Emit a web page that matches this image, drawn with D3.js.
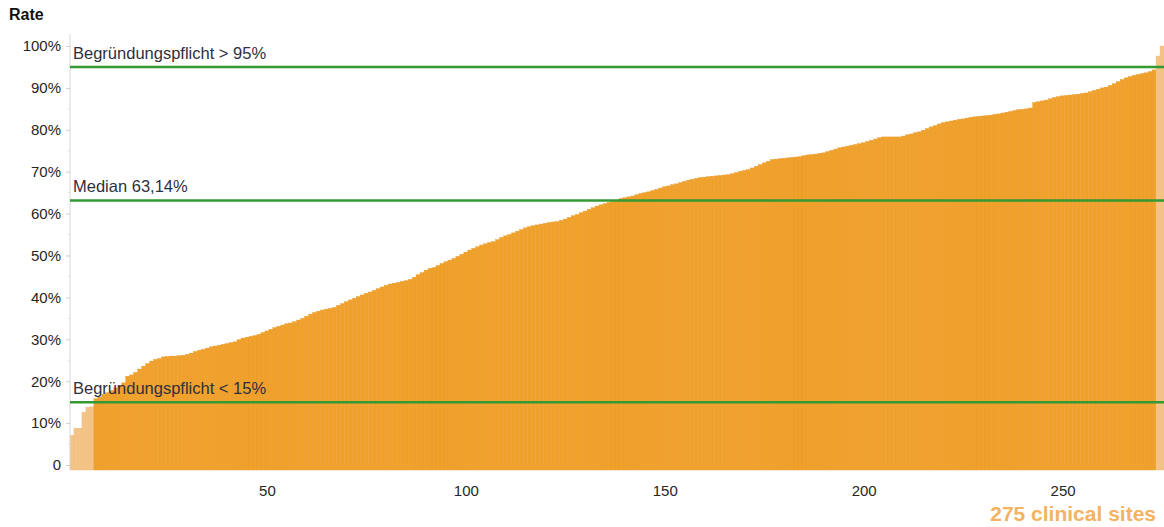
<!DOCTYPE html>
<html>
<head>
<meta charset="utf-8">
<script src="https://cdn.jsdelivr.net/npm/d3@7"></script>
<style>
  html, body { margin: 0; padding: 0; background: #fff; }
  svg { display: block; font-family: "Liberation Sans", Arial, sans-serif; }
</style>
</head>
<body>
<svg id="chart" width="1164" height="527"></svg>
<script>
// ---- data ----
const rates = [
  7.1, 8.8, 8.8, 12.6, 13.8, 13.9, 15.8, 16.2, 16.9, 17.3,
  17.8, 18.4, 19.0, 19.6, 21.2, 21.5, 22.1, 22.9, 23.6, 24.2,
  24.8, 25.2, 25.4, 25.8, 25.9, 26.0, 26.0, 26.1, 26.2, 26.4,
  26.7, 27.1, 27.4, 27.6, 27.9, 28.2, 28.4, 28.6, 28.8, 29.0,
  29.2, 29.4, 29.9, 30.3, 30.5, 30.7, 30.9, 31.2, 31.6, 32.0,
  32.4, 32.8, 33.1, 33.4, 33.7, 33.9, 34.2, 34.6, 35.0, 35.5,
  36.0, 36.4, 36.7, 37.0, 37.2, 37.4, 37.6, 38.1, 38.5, 39.0,
  39.4, 39.8, 40.2, 40.6, 41.0, 41.3, 41.7, 42.1, 42.5, 42.9,
  43.2, 43.4, 43.6, 43.8, 44.0, 44.3, 44.8, 45.4, 45.9, 46.5,
  46.9, 47.1, 47.6, 48.1, 48.5, 48.9, 49.3, 49.8, 50.3, 50.8,
  51.3, 51.7, 52.1, 52.5, 52.8, 53.1, 53.3, 53.8, 54.3, 54.7,
  55.0, 55.4, 55.8, 56.2, 56.6, 56.9, 57.1, 57.3, 57.5, 57.7,
  57.9, 58.0, 58.1, 58.4, 58.7, 59.1, 59.5, 59.8, 60.2, 60.6,
  61.0, 61.4, 61.8, 62.1, 62.4, 62.7, 62.9, 63.14, 63.6, 63.8,
  64.0, 64.2, 64.5, 64.8, 65.0, 65.2, 65.5, 65.8, 66.1, 66.4,
  66.6, 66.9, 67.1, 67.4, 67.7, 68.0, 68.2, 68.4, 68.6, 68.7,
  68.8, 68.9, 69.0, 69.1, 69.2, 69.3, 69.5, 69.8, 70.1, 70.3,
  70.5, 70.9, 71.3, 71.7, 72.1, 72.5, 72.9, 73.0, 73.1, 73.2,
  73.3, 73.4, 73.5, 73.6, 73.8, 74.0, 74.1, 74.2, 74.4, 74.5,
  74.8, 75.1, 75.4, 75.7, 75.9, 76.1, 76.3, 76.5, 76.7, 76.9,
  77.2, 77.5, 77.8, 78.1, 78.3, 78.3, 78.3, 78.3, 78.3, 78.5,
  78.8, 79.0, 79.3, 79.5, 79.9, 80.3, 80.7, 81.0, 81.4, 81.7,
  81.9, 82.1, 82.3, 82.5, 82.6, 82.8, 83.0, 83.1, 83.2, 83.3,
  83.4, 83.5, 83.7, 83.8, 84.0, 84.2, 84.4, 84.6, 84.8, 84.9,
  85.0, 85.2, 86.5, 86.7, 86.9, 87.1, 87.4, 87.7, 87.9, 88.1,
  88.2, 88.3, 88.4, 88.5, 88.7, 88.8, 89.1, 89.4, 89.7, 90.0,
  90.2, 90.6, 91.0, 91.5, 92.0, 92.4, 92.7, 93.0, 93.2, 93.4,
  93.6, 93.9, 94.3, 97.6, 100.0
];
const sites = rates.map((d, i) => i + 1);
const yTicks = [0, 10, 20, 30, 40, 50, 60, 70, 80, 90, 100];
const yTickLabels = ["0", "10%", "20%", "30%", "40%", "50%", "60%", "70%", "80%", "90%", "100%"];
const xTicks = [50, 100, 150, 200, 250];
const refValues = [95, 63.14, 15];
const refLabels = ["Begründungspflicht > 95%", "Median 63,14%", "Begründungspflicht < 15%"];
const yTitle = "Rate";
const xTitle = "275 clinical sites";

// ---- layout ----
const svg = d3.select("#chart");
const mLeft = 70, mRight = 1164, mTop = 46, zeroY = 465;
const x = d3.scaleLinear().domain([0.5, rates.length + 0.5]).range([mLeft, mRight]);
const y = d3.scaleLinear().domain([0, 100]).range([zeroY, mTop]);
const below = 5;

const isOutside = v => v < 15 || v > 95;

// bars
svg.append("g").selectAll("rect").data(rates).join("rect")
  .attr("x", (d, i) => x(sites[i] - 0.5))
  .attr("width", (d, i) => x(sites[i] + 0.5) - x(sites[i] - 0.5))
  .attr("y", d => y(d))
  .attr("height", d => y(0) - y(d) + below)
  .attr("fill", d => isOutside(d) ? "#F4C387" : "#F0A12C")
  .attr("stroke", d => isOutside(d) ? "#F0BC7C" : "#E89928")
  .attr("stroke-width", 0.4);

// y axis
const yAxis = d3.axisLeft(y).tickValues(yTicks).tickFormat((d, i) => yTickLabels[i]).tickSize(4).tickPadding(5);
const gy = svg.append("g").attr("transform", `translate(${mLeft},0)`).call(yAxis);
gy.select(".domain").attr("stroke", "#d8d8d8").attr("d", `M0,${mTop - 12}V${zeroY + below}`);
gy.selectAll(".tick line").attr("stroke", "#cfcfcf");
gy.selectAll(".tick text").attr("fill", "#262626").style("font-size", "15px").style("font-family", "'Liberation Sans', Arial, sans-serif");
// minor ticks
svg.append("g").selectAll("line").data(d3.range(5, 100, 5).filter(v => v % 10 !== 0)).join("line")
  .attr("x1", mLeft - 2).attr("x2", mLeft).attr("y1", d => y(d)).attr("y2", d => y(d))
  .attr("stroke", "#dcdcdc");

// x axis
const xAxis = d3.axisBottom(x).tickValues(xTicks).tickSize(0).tickPadding(0);
const gx = svg.append("g").attr("transform", `translate(0,${zeroY + 20})`).call(xAxis);
gx.select(".domain").remove();
gx.selectAll(".tick text").attr("fill", "#262626").style("font-size", "15px").style("font-family", "'Liberation Sans', Arial, sans-serif");

// reference lines
const ref = svg.append("g");
refValues.forEach((v, i) => {
  ref.append("line").attr("x1", mLeft).attr("x2", mRight).attr("y1", y(v)).attr("y2", y(v))
    .attr("stroke", "#339933").attr("stroke-width", 2.5);
  ref.append("text").attr("x", mLeft + 3).attr("y", y(v) - 8)
    .attr("fill", "#2f2f40").style("font-size", "16.5px").text(refLabels[i]);
});

// titles
svg.append("text").attr("x", 9).attr("y", 20).attr("font-weight", "bold")
  .style("font-size", "16px").attr("fill", "#111").text(yTitle);
svg.append("text").attr("x", 1156).attr("y", 521).attr("text-anchor", "end").attr("font-weight", "bold")
  .style("font-size", "21px").attr("fill", "#F4B362").text(xTitle);
</script>
</body>
</html>
